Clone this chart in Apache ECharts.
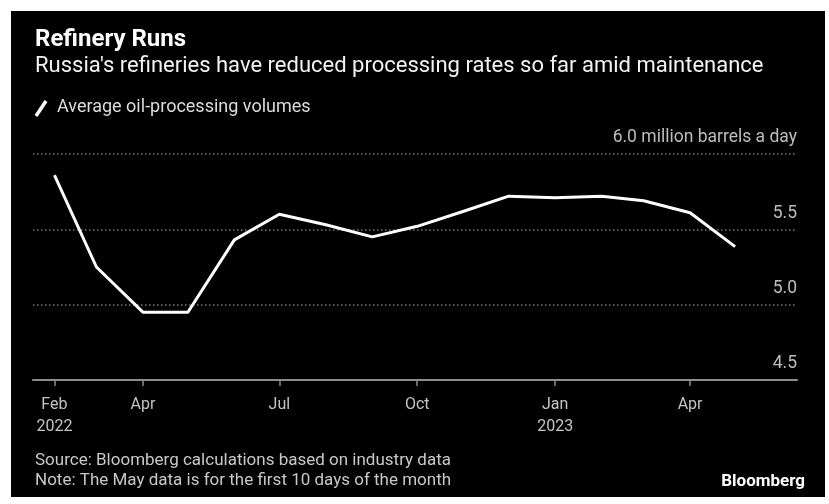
<!DOCTYPE html>
<html>
<head>
<meta charset="utf-8">
<script src="https://cdn.jsdelivr.net/npm/echarts@6/dist/echarts.min.js"></script>
<style>
  html, body { margin: 0; padding: 0; background: #ffffff; width: 829px; height: 504px; overflow: hidden; }
  #c { position: absolute; left: 11px; top: 11px; width: 814px; height: 486px; background: #000; }
</style>
</head>
<body>
<div id="c"></div>
<script>
// ---- data ----
const months = ['2022-02','2022-03','2022-04','2022-05','2022-06','2022-07','2022-08','2022-09',
                '2022-10','2022-11','2022-12','2023-01','2023-02','2023-03','2023-04','2023-05'];
const runs = [5.86, 5.25, 4.95, 4.95, 5.43, 5.60, 5.53, 5.45,
              5.52, 5.62, 5.72, 5.71, 5.72, 5.69, 5.61, 5.385];
const tickMonths = ['2022-02','2022-04','2022-07','2022-10','2023-01','2023-04'];
const tickLabels = ['Feb\n2022','Apr','Jul','Oct','Jan\n2023','Apr'];
const yUnit = 'million barrels a day';
const seriesName = 'Average oil-processing volumes';
const titleText = 'Refinery Runs';
const subtitleText = "Russia's refineries have reduced processing rates so far amid maintenance";
const sourceText = 'Source: Bloomberg calculations based on industry data';
const noteText = 'Note: The May data is for the first 10 days of the month';

// ---- helpers ----
const base = Date.UTC(2022, 1, 1);
function dayIndex(m) {
  const [y, mo] = m.split('-').map(Number);
  return (Date.UTC(y, mo - 1, 1) - base) / 86400000;
}
const tickVals = tickMonths.map(dayIndex);
const labelMap = {};
tickVals.forEach((v, i) => { labelMap[v] = tickLabels[i]; });

const FONT = 'Roboto';
const chart = echarts.init(document.getElementById('c'), null, { renderer: 'canvas' });
chart.setOption({
  backgroundColor: '#000',
  animation: false,
  textStyle: { fontFamily: FONT },
  grid: { left: 22, right: 28, top: 143, bottom: 117 },
  xAxis: {
    type: 'value',
    min: -14.3,
    max: 495.3,
    axisLine: { show: true, lineStyle: { color: '#8c8c8c', width: 2 } },
    axisTick: { show: true, customValues: tickVals, length: 6, lineStyle: { color: '#8c8c8c', width: 1.5 } },
    axisLabel: {
      customValues: tickVals,
      formatter: v => labelMap[v] !== undefined ? labelMap[v] : '',
      color: '#c4c4c4', fontSize: 16, lineHeight: 22, margin: 14, fontFamily: FONT
    },
    splitLine: { show: false }
  },
  yAxis: {
    type: 'value',
    position: 'right',
    min: 4.5, max: 6.0, interval: 0.5,
    axisLine: { show: false },
    axisTick: { show: false },
    axisLabel: {
      inside: true, margin: 0,
      formatter: v => (Math.abs(v - 6) < 1e-9 ? v.toFixed(1) + ' ' + yUnit : v.toFixed(1)),
      color: '#bdbdbd', fontSize: 17.5, lineHeight: 20,
      verticalAlign: 'bottom', padding: [0, 0, 6, 0], fontFamily: FONT
    },
    splitLine: { show: true, lineStyle: { color: '#777', width: 1.5, type: [1.5, 2.5] } }
  },
  series: [{
    name: seriesName,
    type: 'line',
    data: months.map((m, i) => [dayIndex(m), runs[i]]),
    showSymbol: false,
    symbol: 'none',
    lineStyle: { color: '#ffffff', width: 3, join: 'round' },
    z: 5
  }],
  graphic: [
    { type: 'text', left: 24, top: 17, style: { text: titleText, fill: '#fff', font: 'bold 24px ' + FONT } },
    { type: 'text', left: 24, top: 44, style: { text: subtitleText, fill: '#f2f2f2', font: '22px ' + FONT } },
    { type: 'line', shape: { x1: 25, y1: 105, x2: 35, y2: 90 }, style: { stroke: '#fff', lineWidth: 3.5 } },
    { type: 'text', left: 46, top: 87, style: { text: seriesName, fill: '#dcdcdc', font: '18px ' + FONT } },
    { type: 'text', left: 24, top: 441, style: { text: sourceText, fill: '#c8c8c8', font: '17px ' + FONT } },
    { type: 'text', left: 24, top: 461, style: { text: noteText, fill: '#c8c8c8', font: '17px ' + FONT } },
    { type: 'text', right: 20, top: 462, style: { text: 'Bloomberg', fill: '#fff', font: 'bold 17px ' + FONT } }
  ]
});
</script>
</body>
</html>
